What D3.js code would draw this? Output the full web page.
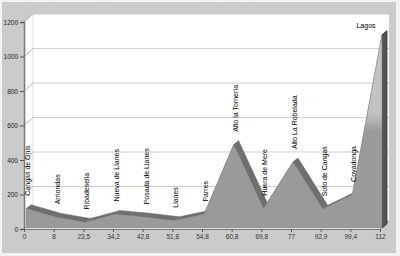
<!DOCTYPE html>
<html><head><meta charset="utf-8">
<script src="https://cdn.jsdelivr.net/npm/d3@7"></script>
<style>body{margin:0;background:#fff}svg{display:block}text{font-family:"Liberation Sans",Arial,sans-serif}</style>
</head><body>
<svg id="c" width="400" height="256"></svg>
<script>
const places = ["Cangas de Onis","Arriondas","Ribadesella","Nueva de Llanes","Posada de Llanes","Llanes","Parres","Alto la Tornería","Huera de Mere","Alto La Robelada","Soto de Cangas","Covadonga","Lagos"];
const distances = ["0","8","23,5","34,2","42,8","51,8","54,8","60,8","69,8","77","92,9","99,4","112"];
const elevations = [112, 62, 32, 78, 62, 42, 78, 482, 112, 382, 108, 192, 1120];
const yTicks = [0, 200, 400, 600, 800, 1000, 1200];

const svg = d3.select("#c");
const W = 400, H = 256;
const depth = {dx: 9, dy: -8};     // box depth
const sOff = {dx: 2, dy: -1};      // series front offset
const sDep = {dx: 5, dy: -4};      // series depth

const idx = places.map((_, i) => i);
const x = d3.scalePoint().domain(idx).range([24, 380]);
const y = d3.scaleLinear().domain([0, 1200]).range([229, 22]);

// outer panel
svg.append("rect").attr("x", 0).attr("y", 0).attr("width", W).attr("height", H).attr("fill", "#f2f2f2");
svg.append("rect").attr("x", 2.5).attr("y", 2.5).attr("width", 393).attr("height", 250)
  .attr("fill", "#cbcbcb").attr("stroke", "#b0b0b0").attr("stroke-dasharray", "1,1");

const x0 = x(0), x1 = x(idx.length - 1), yb = y(0), yt = y(1200);
// back wall
svg.append("rect").attr("x", x0 + depth.dx).attr("y", yt + depth.dy)
  .attr("width", x1 - x0).attr("height", yb - yt).attr("fill", "#fff");
// left wall
svg.append("polygon").attr("points", [[x0, yt], [x0 + depth.dx, yt + depth.dy], [x0 + depth.dx, yb + depth.dy], [x0, yb]].join(" ")).attr("fill", "#fff");
// floor
svg.append("polygon").attr("points", [[x0, yb], [x1, yb], [x1 + depth.dx, yb + depth.dy], [x0 + depth.dx, yb + depth.dy]].join(" ")).attr("fill", "#fff");
svg.append("line").attr("x1", x0 + depth.dx).attr("x2", x0 + depth.dx).attr("y1", yt + depth.dy).attr("y2", yb + depth.dy).attr("stroke", "#dcdcdc");

// gridlines
const g = svg.append("g");
yTicks.forEach(t => {
  g.append("line").attr("x1", x0 + depth.dx).attr("x2", x1 + depth.dx)
    .attr("y1", y(t) + depth.dy).attr("y2", y(t) + depth.dy).attr("stroke", "#cfcfcf");
  g.append("line").attr("x1", x0).attr("x2", x0 + depth.dx)
    .attr("y1", y(t)).attr("y2", y(t) + depth.dy).attr("stroke", "#b4b4b4");
});
svg.append("line").attr("x1", x1).attr("y1", yb).attr("x2", x1 + depth.dx).attr("y2", yb + depth.dy).attr("stroke", "#999");

// gradient for front face
const defs = svg.append("defs");
const gr = defs.append("linearGradient").attr("id", "fg").attr("gradientUnits", "userSpaceOnUse")
  .attr("x1", 0).attr("x2", 0).attr("y1", 112).attr("y2", 132);
gr.append("stop").attr("offset", 0).attr("stop-color", "#c3c3c3");
gr.append("stop").attr("offset", 1).attr("stop-color", "#9a9a9a");

// series
const F = idx.map(i => [x(i) + sOff.dx, y(elevations[i]) + sOff.dy]);
const B = F.map(p => [p[0] + sDep.dx, p[1] + sDep.dy]);
const floorF = yb + sOff.dy;
const ser = svg.append("g");
for (let i = 0; i < F.length - 1; i++) {
  ser.append("polygon").attr("points", [F[i], F[i + 1], B[i + 1], B[i]].join(" "))
    .attr("fill", "#6e6e6e").attr("stroke", "#6e6e6e").attr("stroke-width", 0.5);
}
const L = F.length - 1;
ser.append("polygon").attr("points", [F[L], B[L], [B[L][0], floorF + sDep.dy], [F[L][0], floorF]].join(" "))
  .attr("fill", "#555").attr("stroke", "#333").attr("stroke-width", 0.8);
const area = d3.area().x(d => d[0]).y0(floorF).y1(d => d[1]);
ser.append("path").attr("d", area(F)).attr("fill", "url(#fg)").attr("stroke", "#8a8a8a").attr("stroke-width", 0.5);

// y axis
const ya = svg.append("g").attr("transform", `translate(${x0},0)`)
  .call(d3.axisLeft(y).tickValues(yTicks).tickSize(4).tickPadding(2).tickFormat(d3.format("d")));
ya.select(".domain").attr("stroke", "#7a7a7a").attr("stroke-width", 1.5);
ya.selectAll(".tick line").attr("stroke", "#555");
ya.selectAll("text").attr("font-size", 6.5).attr("fill", "#222").style("font-family", "Liberation Sans, Arial, sans-serif");

// x axis
const xa = svg.append("g").attr("transform", `translate(0,${yb})`)
  .call(d3.axisBottom(x).tickSize(3).tickPadding(2).tickFormat(i => distances[i]));
xa.select(".domain").attr("stroke", "#7a7a7a");
xa.selectAll(".tick line").attr("stroke", "#555");
xa.selectAll("text").attr("font-size", 6.5).attr("fill", "#333").style("font-family", "Liberation Sans, Arial, sans-serif");

// place labels
const lab = svg.append("g");
idx.forEach(i => {
  if (i === L) {
    lab.append("text").attr("x", x(i) - 14).attr("y", y(elevations[i]) - 8)
      .attr("text-anchor", "middle").attr("font-size", 7).attr("fill", "#000").text(places[i]);
  } else {
    const px = x(i) + 6, py = y(elevations[i]) - 14;
    lab.append("text").attr("transform", `translate(${px},${py}) rotate(-90)`)
      .attr("text-anchor", "start").attr("font-size", 7).attr("fill", "#000").text(places[i]);
  }
});
</script>
</body></html>
